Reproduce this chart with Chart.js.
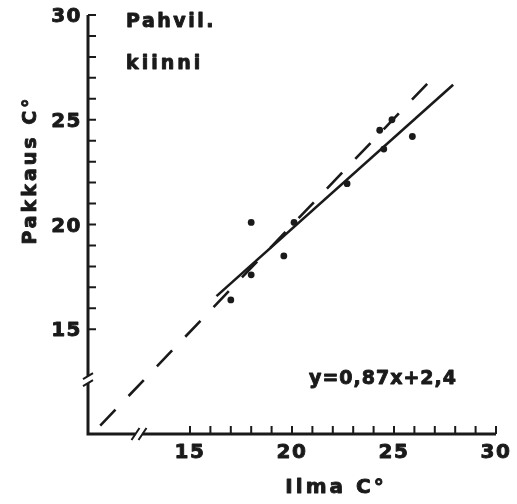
<!DOCTYPE html>
<html>
<head>
<meta charset="utf-8">
<script src="https://cdn.jsdelivr.net/npm/chart.js@4/dist/chart.umd.min.js"></script>
<style>
  html, body { margin: 0; padding: 0; background: #fff; }
  #wrap { width: 517px; height: 504px; }
</style>
</head>
<body>
<div id="wrap"><canvas id="chart" width="517" height="504"></canvas></div>
<script>
// measured temperatures: air (x) vs. package (y), lid closed
const airTemp = [17.0, 18.0, 18.0, 19.6, 20.1, 22.7, 24.3, 24.5, 24.9, 25.9];
const packTemp = [16.4, 17.6, 20.1, 18.5, 20.1, 21.95, 24.5, 23.6, 25.0, 24.2];

// fitted line y = slope * x + intercept, drawn over the measured span
const slope = 0.87;
const intercept = 2.4;
const fitRange = [16.3, 27.9];

// 1:1 reference line
const equalLine = [[10.6, 10.4], [27.2, 27.3]];

const tickValues = [15, 16, 17, 18, 19, 20, 21, 22, 23, 24, 25, 26, 27, 28, 29, 30];
const tickLabels = [15, 20, 25, 30];

const FONT = '"DejaVu Sans", sans-serif';
const INK = '#1a1a1a';

const points = airTemp.map((x, i) => ({ x: x, y: packTemp[i] }));
const fitPoints = fitRange.map(x => ({ x: x, y: slope * x + intercept }));
const equalPoints = equalLine.map(p => ({ x: p[0], y: p[1] }));

// heavy print-style text: fill plus a thin outline
function label(ctx, text, x, y, size, align, spacing) {
  ctx.save();
  ctx.font = 'bold ' + size + 'px ' + FONT;
  ctx.letterSpacing = (spacing || 0) + 'px';
  ctx.textAlign = align || 'center';
  ctx.textBaseline = 'middle';
  ctx.fillStyle = INK;
  ctx.strokeStyle = INK;
  ctx.lineWidth = 0.9;
  ctx.lineJoin = 'round';
  ctx.fillText(text, x, y);
  ctx.strokeText(text, x, y);
  ctx.restore();
}

// axes are drawn by hand: inner ticks and broken origin
const axesPlugin = {
  id: 'brokenAxes',
  afterDraw(chart) {
    const ctx = chart.ctx;
    const xs = chart.scales.x;
    const ys = chart.scales.y;
    const x0 = xs.getPixelForValue(10);
    const y0 = ys.getPixelForValue(10);
    const xEnd = xs.getPixelForValue(30);
    const yTop = ys.getPixelForValue(30);
    const yBreak = ys.getPixelForValue(12.6);
    const xBreak = xs.getPixelForValue(12.5);
    const gap = 3.5;

    ctx.save();
    ctx.strokeStyle = INK;
    ctx.lineCap = 'butt';
    ctx.lineWidth = 3;
    ctx.beginPath();
    ctx.moveTo(x0, yTop);
    ctx.lineTo(x0, yBreak - gap);
    ctx.moveTo(x0, yBreak + gap);
    ctx.lineTo(x0, y0);
    ctx.lineTo(xBreak - gap, y0);
    ctx.moveTo(xBreak + gap, y0);
    ctx.lineTo(xEnd, y0);
    ctx.stroke();

    // break marks
    ctx.lineWidth = 2;
    ctx.beginPath();
    [-gap, gap].forEach(d => {
      ctx.moveTo(x0 - 5, yBreak + d + 3);
      ctx.lineTo(x0 + 5, yBreak + d - 3);
      ctx.moveTo(xBreak + d - 4, y0 + 6);
      ctx.lineTo(xBreak + d + 4, y0 - 6);
    });
    ctx.stroke();

    // ticks pointing into the plot
    ctx.lineWidth = 2;
    ctx.beginPath();
    tickValues.forEach(v => {
      const px = xs.getPixelForValue(v);
      ctx.moveTo(px, y0);
      ctx.lineTo(px, y0 - 8);
      const py = ys.getPixelForValue(v);
      ctx.moveTo(x0, py);
      ctx.lineTo(x0 + 8, py);
    });
    ctx.stroke();
    ctx.restore();

    tickLabels.forEach(v => {
      label(ctx, String(v), xs.getPixelForValue(v), y0 + 19, 20, 'center', 1.5);
      label(ctx, String(v), x0 - 6, ys.getPixelForValue(v) + 2, 20, 'right', 1.5);
    });

    label(ctx, 'Ilma C°', 336, 488, 20, 'center', 3);
    label(ctx, 'Pahvil.', 126, 22, 19, 'left', 2.5);
    label(ctx, 'kiinni', 126, 64, 19, 'left', 3);
    label(ctx, 'y=0,87x+2,4', 383, 379, 19, 'center', 1);

    ctx.save();
    ctx.translate(31, 170);
    ctx.rotate(-Math.PI / 2);
    label(ctx, 'Pakkaus C°', 0, 0, 19, 'center', 3);
    ctx.restore();
  }
};

new Chart(document.getElementById('chart'), {
  type: 'scatter',
  data: {
    datasets: [
      {
        data: points,
        pointRadius: 3.4,
        pointBackgroundColor: INK,
        pointBorderWidth: 0
      },
      {
        type: 'line',
        data: fitPoints,
        borderColor: INK,
        borderWidth: 2.6,
        pointRadius: 0,
        fill: false
      },
      {
        type: 'line',
        data: equalPoints,
        borderColor: INK,
        borderWidth: 2.6,
        borderDash: [22, 19],
        pointRadius: 0,
        fill: false
      }
    ]
  },
  options: {
    responsive: false,
    animation: false,
    layout: { padding: { left: 88, right: 21, top: 15, bottom: 70 } },
    plugins: { legend: { display: false }, tooltip: { enabled: false } },
    scales: {
      x: { type: 'linear', min: 10, max: 30, display: false },
      y: { type: 'linear', min: 10, max: 30, display: false }
    }
  },
  plugins: [axesPlugin]
});
</script>
</body>
</html>
